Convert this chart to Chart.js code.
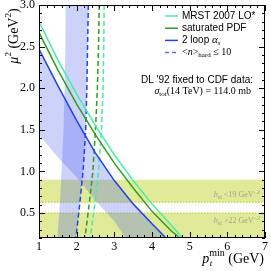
<!DOCTYPE html>
<html>
<head>
<meta charset="utf-8">
<script src="https://cdn.jsdelivr.net/npm/chart.js@4.4.1/dist/chart.umd.min.js"></script>
<style>
  html, body { margin: 0; padding: 0; background: #fff; }
  #wrap { width: 271px; height: 271px; }
</style>
</head>
<body>
<div id="wrap"><canvas id="muChart" width="271" height="271"></canvas></div>
<script>
// curves, points are [pt_min (GeV), mu^2 (GeV^2)]
const mrstSolid = [[1.0,2.80],[1.5,2.34],[2.0,1.93],[2.5,1.55],[3.0,1.20],[3.5,0.89],[4.0,0.61],[4.5,0.36],[4.82,0.2]];
const satSolid  = [[1.0,2.67],[1.5,2.22],[2.0,1.81],[2.5,1.44],[3.0,1.10],[3.5,0.80],[4.0,0.52],[4.5,0.29],[4.74,0.2]];
const loopSolid = [[1.0,2.47],[1.5,2.03],[2.0,1.61],[2.5,1.22],[3.0,0.89],[3.5,0.61],[4.0,0.37],[4.37,0.2]];

// <n>_hard <= 10 curves
const mrstDash = [[2.73,3.0],[2.72,2.5],[2.70,2.0],[2.66,1.5],[2.58,1.0],[2.48,0.6],[2.36,0.2]];
const satDash  = [[2.60,3.0],[2.58,2.5],[2.55,2.0],[2.50,1.5],[2.43,1.0],[2.33,0.6],[2.22,0.2]];
const loopDash = [[2.31,3.0],[2.29,2.5],[2.27,2.0],[2.24,1.5],[2.17,1.0],[2.08,0.6],[1.98,0.2]];

// edges of the blue uncertainty bands
const bandLeftEdge  = [[1.71,3.0],[1.70,2.5],[1.68,2.0],[1.65,1.5],[1.60,1.0],[1.55,0.6],[1.49,0.2]];
const bandLowerEdge = [[1.0,1.44],[1.5,1.17],[2.0,0.93],[2.5,0.65],[3.0,0.40],[3.3,0.2]];

// b_el bands (mu^2 ranges)
const elLow  = [0.2, 0.5];
const elHigh = [0.63, 0.9];
const xRange = [1, 7];

const xTicks = [1, 2, 3, 4, 5, 6, 7];
const yTicks = [0.5, 1.0, 1.5, 2.0, 2.5, 3.0];

const AQUA = '#44eea4';
const GREEN = '#2f9e1c';
const BLUE = '#2142ee';
const YELLOW = '#e0ea98';
const BANDBLUE = 'rgba(70,90,240,0.27)';
const SERIF = '"Liberation Serif", "DejaVu Serif", serif';
const SANS = '"Liberation Sans", Arial, sans-serif';

const pts = (arr) => arr.map(p => ({ x: p[0], y: p[1] }));
const rect = (r) => pts([[xRange[0], r[0]], [xRange[1], r[0]], [xRange[1], r[1]], [xRange[0], r[1]]]);

function curve(data, color, dash) {
  return {
    data: pts(data), borderColor: color, borderWidth: 1.5, borderDash: dash || [],
    pointRadius: 0, fill: false, tension: 0, order: 1
  };
}
function shape(data, color, order) {
  return {
    data: data, borderWidth: 0, borderColor: 'rgba(0,0,0,0)', backgroundColor: color,
    pointRadius: 0, fill: 'shape', tension: 0, order: order
  };
}

function richWidth(ctx, parts) {
  let w = 0;
  parts.forEach(p => { ctx.font = p[1]; w += ctx.measureText(p[0]).width; });
  return w;
}
function drawRich(ctx, parts, x, y, align) {
  const w = richWidth(ctx, parts);
  let cx = align === 'right' ? x - w : (align === 'center' ? x - w / 2 : x);
  parts.forEach(p => {
    ctx.font = p[1];
    ctx.fillText(p[0], cx, y + (p[2] || 0));
    cx += ctx.measureText(p[0]).width;
  });
}

const decor = {
  id: 'decor',
  afterDraw(chart) {
    const { ctx, chartArea: a, scales: { x, y } } = chart;
    ctx.save();
    // frame + inward ticks on all sides
    ctx.strokeStyle = '#000';
    ctx.lineWidth = 1;
    ctx.strokeRect(a.left + 0.5, a.top + 0.5, a.right - a.left - 1, a.bottom - a.top - 1);
    ctx.beginPath();
    for (let i = 0; i <= 30; i++) {
      const v = 1 + i * 0.2;
      const p = Math.round(x.getPixelForValue(v)) + 0.5;
      const len = i % 5 === 0 ? 6 : 3;
      ctx.moveTo(p, a.bottom); ctx.lineTo(p, a.bottom - len);
      ctx.moveTo(p, a.top); ctx.lineTo(p, a.top + len);
    }
    for (let i = 0; i <= 28; i++) {
      const v = 0.2 + i * 0.1;
      const p = Math.round(y.getPixelForValue(v)) + 0.5;
      const len = (i + 2) % 5 === 0 ? 6 : 3;
      ctx.moveTo(a.left, p); ctx.lineTo(a.left + len, p);
      ctx.moveTo(a.right, p); ctx.lineTo(a.right - len, p);
    }
    ctx.stroke();

    // legend
    ctx.fillStyle = '#000';
    ctx.textBaseline = 'middle';
    const rows = [
      { c: AQUA, d: [], t: [['MRST 2007 LO*', '10px ' + SANS]] },
      { c: GREEN, d: [], t: [['saturated PDF', '10px ' + SANS]] },
      { c: BLUE, d: [], t: [['2 loop ', '10px ' + SANS], ['\u03b1', 'italic 11px ' + SERIF], ['s', 'italic 7px ' + SERIF, 3]] },
      { c: '#5a6cf0', d: [4, 3], t: [['<', '10px ' + SERIF], ['n', 'italic 10px ' + SERIF], ['>', '10px ' + SERIF], ['hard', '7px ' + SERIF, 3], [' \u2264 10', '10px ' + SERIF]] }
    ];
    rows.forEach((r, i) => {
      const yy = 16 + i * 12.2;
      ctx.strokeStyle = r.c; ctx.lineWidth = 1.5; ctx.setLineDash(r.d);
      ctx.beginPath(); ctx.moveTo(165, yy); ctx.lineTo(178, yy); ctx.stroke();
      ctx.setLineDash([]);
      drawRich(ctx, r.t, 182, yy, 'left');
    });

    ctx.textBaseline = 'alphabetic';
    drawRich(ctx, [["DL '92 fixed to CDF data:", '10px ' + SANS]], 253, 83, 'right');
    drawRich(ctx, [['\u03c3', 'italic 10px ' + SERIF], ['tot', '7px ' + SERIF, 2],
      ['(14 TeV) = 114.0 mb', '10px ' + SERIF]], 251, 94, 'right');

    // b_el labels
    ctx.fillStyle = '#a2a48a';
    drawRich(ctx, [['b', 'italic 8px ' + SERIF], ['el', '6px ' + SERIF, 2], [' <19 GeV', '8px ' + SERIF], ['\u22122', '6px ' + SERIF, -3]], 260, 197, 'right');
    drawRich(ctx, [['b', 'italic 8px ' + SERIF], ['el', '6px ' + SERIF, 2], [' >22 GeV', '8px ' + SERIF], ['\u22122', '6px ' + SERIF, -3]], 260, 223, 'right');

    // x axis title, right aligned to the frame
    ctx.fillStyle = '#000';
    const xt = [['p', 'italic 14px ' + SERIF], ['min', '10px ' + SERIF, -7], [' (GeV)', '14px ' + SERIF]];
    const xw = richWidth(ctx, xt);
    drawRich(ctx, xt, a.right - 1, 263, 'right');
    ctx.font = 'italic 14px ' + SERIF;
    const pw = ctx.measureText('p').width;
    ctx.font = 'italic 9px ' + SERIF;
    ctx.fillText('t', a.right - 1 - xw + pw + 0.5, 266);

    // y axis title
    ctx.translate(18, 36);
    ctx.rotate(-Math.PI / 2);
    drawRich(ctx, [['\u03bc', 'italic 14px ' + SERIF], ['2', '9px ' + SERIF, -7], [' (GeV', '14px ' + SERIF],
      ['2', '9px ' + SERIF, -7], [')', '14px ' + SERIF]], 0, 0, 'center');
    ctx.restore();
  }
};

const bandA = pts(bandLeftEdge.concat(loopDash.slice().reverse()));
const bandB = pts(loopSolid.concat(bandLowerEdge.slice().reverse()));

new Chart(document.getElementById('muChart'), {
  type: 'line',
  data: {
    datasets: [
      curve(mrstSolid, AQUA),
      curve(satSolid, GREEN),
      curve(loopSolid, BLUE),
      curve(mrstDash, AQUA, [5, 3]),
      curve(satDash, GREEN, [5, 3]),
      curve(loopDash, BLUE, [5, 3]),
      shape(bandA, BANDBLUE, 5),
      shape(bandB, BANDBLUE, 6),
      {
        data: pts([[xRange[0], elHigh[0]], [xRange[1], elHigh[0]]]), borderColor: '#c3d52c', borderWidth: 1.3,
        borderDash: [1.5, 1.5], pointRadius: 0, fill: false, order: 8
      },
      {
        data: pts([[xRange[0], elLow[1]], [xRange[1], elLow[1]]]), borderColor: '#c3d52c', borderWidth: 1.3,
        borderDash: [1.5, 1.5], pointRadius: 0, fill: false, order: 8
      },
      shape(rect(elLow), YELLOW, 10),
      shape(rect(elHigh), YELLOW, 10)
    ]
  },
  options: {
    responsive: false,
    animation: false,
    layout: { padding: { top: 5, right: 6, left: 0, bottom: 0 } },
    plugins: { legend: { display: false }, tooltip: { enabled: false } },
    scales: {
      x: {
        type: 'linear', min: 1, max: 7,
        grid: { display: false, drawTicks: false }, border: { display: false },
        afterBuildTicks: (s) => { s.ticks = xTicks.map(v => ({ value: v })); },
        ticks: { color: '#000', padding: 2, maxRotation: 0, font: { family: SERIF, size: 12 }, callback: (v) => String(v) },
        afterFit: (s) => { s.height = 33; s.paddingLeft = 0; s.paddingRight = 0; }
      },
      y: {
        type: 'linear', min: 0.2, max: 3.0,
        grid: { display: false, drawTicks: false }, border: { display: false },
        afterBuildTicks: (s) => { s.ticks = yTicks.map(v => ({ value: v })); },
        ticks: { color: '#000', padding: 4, font: { family: SERIF, size: 12 }, callback: (v) => v.toFixed(1) },
        afterFit: (s) => { s.width = 39; s.paddingTop = 0; s.paddingBottom = 0; }
      }
    }
  },
  plugins: [decor]
});
</script>
</body>
</html>
